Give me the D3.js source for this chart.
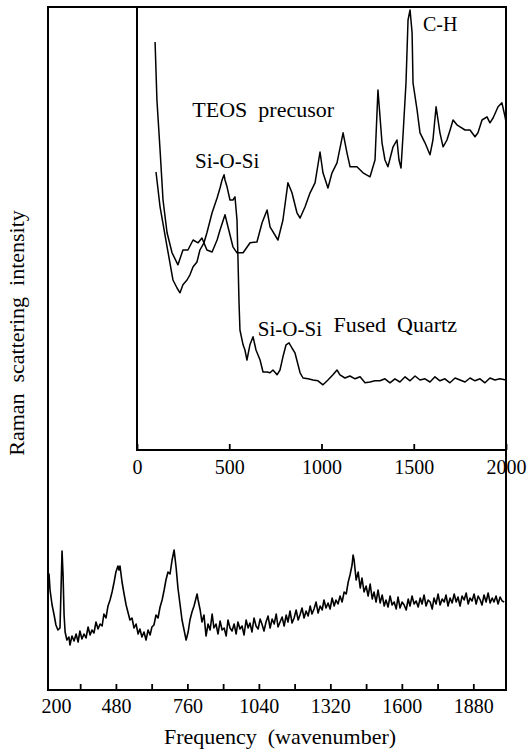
<!DOCTYPE html>
<html><head><meta charset="utf-8">
<script src="https://cdn.jsdelivr.net/npm/d3@7"></script>
<style>body{margin:0;background:#fff}svg{display:block}
svg text{font-family:"Liberation Serif","Times New Roman",serif;fill:#000}</style>
</head><body>
<svg id="c" width="529" height="756"></svg>
<script>
// ---------- data ----------
// Outer (main) spectrum: [wavenumber, intensity (a.u.)]
const surfaceSpectrum = [
[214,55],[218,58],[222,50],[230,42.5],[238,37.5],[245,32.5],[253,30],[261,31],[265,50],[269,69.5],[273,57.5],[277,37.5],[281,29],
[288,25],[296,26.5],[300,22.5],[308,27],[316,24.5],[324,28],[332,24],[339,29.5],[347,25.5],[355,28],[363,26],[371,31.5],[379,27.5],
[386,30],[394,28.5],[402,34],[410,30.5],[418,33],[426,32],[433,38],[441,36],[449,42],[457,45],[465,49],[473,54],[480,59],[488,62],
[492,60],[496,62],[504,54],[512,48],[520,42.5],[527,39],[535,35],[543,36],[551,31],[559,33],[567,28],[574,30.5],[582,26.5],[590,29],
[598,25],[606,30],[614,27.5],[621,31.5],[629,32.5],[637,37.5],[645,36],[653,41.5],[661,45],[669,50],[676,55],[684,59],[692,58],
[700,65],[708,70],[716,61],[723,51],[731,43],[739,35],[747,30],[755,25],[763,29],[770,35],[778,39],[786,42],[794,46],[798,48],[802,45],
[810,40],[817,34],[825,37.5],[833,27],[841,33],[849,30],[857,38],[864,31],[872,33],[880,28],[888,34.5],[896,30],[904,31],[912,27],
[919,35],[927,31],[935,29.5],[943,33],[951,28],[958,34],[966,30.5],[974,32],[982,27.5],[990,35],[998,31],[1005,33.5],[1013,29],
[1021,36],[1029,32],[1037,30.5],[1045,35.5],[1052,33],[1060,29.5],[1068,34],[1076,37],[1084,31],[1092,35.5],[1100,33],[1108,38],
[1115,31.5],[1123,34],[1131,36.5],[1139,32],[1147,37.5],[1154,34],[1162,39.5],[1170,33.5],[1178,36],[1186,40],[1194,35],
[1201,37.5],[1209,41],[1217,36],[1225,39.5],[1233,37],[1241,42],[1248,38],[1256,40.5],[1264,44],[1272,38.5],[1280,42],
[1288,40],[1295,45],[1303,41],[1311,43.5],[1319,40.5],[1327,46],[1335,42],[1342,45],[1350,43],[1358,47],[1366,44],[1374,49],
[1382,48],[1390,54],[1397,57.5],[1405,62.5],[1409,67.5],[1413,65],[1421,55],[1429,59],[1437,51],[1444,56],[1452,49],[1460,52],
[1468,47],[1476,53],[1484,45.5],[1491,49],[1499,44],[1507,50],[1515,43.5],[1523,47.5],[1531,42],[1538,45],[1546,41.5],[1554,47],
[1562,42.5],[1570,44],[1578,40.5],[1585,46.5],[1593,41],[1601,44],[1609,42.5],[1617,40],[1625,45.5],[1632,42],[1640,47],[1648,43],
[1656,44.5],[1664,41.5],[1672,46],[1679,43],[1687,47.5],[1695,42],[1703,45],[1711,44],[1719,40.5],[1726,46],[1734,43],[1742,48],
[1750,42.5],[1758,45.5],[1766,44],[1773,47.5],[1781,42],[1789,46],[1797,43.5],[1805,48],[1813,44],[1820,46.5],[1828,42],[1836,47],
[1844,45],[1852,48.5],[1860,43],[1867,46],[1875,44.5],[1883,48],[1891,43],[1899,47],[1907,45],[1914,42.5],[1922,47.5],[1930,44],
[1938,48.5],[1946,43.5],[1954,46],[1961,44],[1969,47],[1977,43],[1985,46.5],[1993,44.5],[2001,44]
];
// Inset: TEOS precursor film
const teosSpectrum = [
[98,102],[108,87.5],[125,75],[141,62.5],[163,54.3],[190,49.3],[222,46.3],[249,50],[276,50],[304,52.5],[331,51.8],[352,53],[379,50],
[407,49.5],[434,52.5],[450,55],[477,58.8],[493,55.8],[520,50.8],[542,49.3],[575,49.3],[613,51.8],[650,52],[678,56.8],[705,60],
[721,55.8],[764,52.5],[791,57.5],[818,66.8],[840,64.3],[867,59.3],[884,58],[911,60.8],[938,64.3],[965,66.8],[992,74.5],[1008,69.3],
[1035,65.5],[1057,69.3],[1084,71.8],[1117,79.3],[1138,74.3],[1155,70.8],[1192,70.8],[1225,69.3],[1263,68.3],[1290,72.5],[1306,90],
[1328,76.8],[1344,72.5],[1360,70.8],[1388,75.8],[1409,77.5],[1420,72.5],[1431,70.5],[1442,78.8],[1458,91.8],[1469,107.5],[1480,110],
[1491,104.3],[1496,91.8],[1518,85],[1534,79.3],[1561,76.8],[1588,73.8],[1604,77.5],[1621,85.8],[1642,79.3],[1659,75.8],[1680,77.5],
[1697,80],[1713,82.5],[1734,81.3],[1751,80.8],[1778,80],[1805,80],[1832,78.3],[1848,79.3],[1870,82.5],[1897,83.3],[1913,81.8],
[1930,83],[1957,85.8],[1978,86.8],[1995,83.3],[2000,82]
];
// Inset: fused quartz
const quartzSpectrum = [
[103,69.5],[125,60.8],[163,50.8],[195,42.5],[217,40.5],[233,39.3],[249,41.3],[271,42.5],[287,43.8],[304,45.8],[325,47],[341,50],
[363,51.8],[379,54.3],[407,59.3],[434,63],[450,65.5],[461,67.5],[472,68.8],[477,67.5],[488,65.8],[504,62.5],[520,62.5],[531,63.3],
[542,57.5],[547,48.3],[553,36.8],[558,30],[575,26.3],[585,25],[596,22.5],[612,26.3],[629,28.3],[645,25],[667,22.5],[683,19.5],
[705,19.5],[721,19.3],[737,20],[759,18.8],[775,20],[791,23.3],[808,26.3],[824,26.8],[840,25.5],[856,24.3],[884,19.3],[900,18],
[927,17.8],[954,17.5],[981,17.3],[1008,16.3],[1035,17.5],[1062,18.8],[1084,20],[1100,18.8],[1127,18],[1154,18.5],[1182,17.8],
[1209,18.3],[1236,16.8],[1263,17],[1290,17.3],[1317,17.3],[1344,17.8],[1371,16.8],[1398,17.8],[1425,17],[1453,18.3],[1480,17.3],
[1507,18.5],[1534,17.5],[1561,17.8],[1588,17],[1615,18.3],[1642,17.3],[1669,17.8],[1696,16.8],[1724,18],[1751,17.5],[1778,17],
[1805,18],[1832,17.3],[1859,17.8],[1886,16.8],[1913,18],[1940,17.5],[1967,17.8],[2000,17.5]
];
const outerTickMarks = [340,480,620,760,900,1040,1180,1320,1460,1600,1740,1880];
const outerTickLabels = [200,480,760,1040,1320,1600,1880];
const insetTickLabels = [0,500,1000,1500,2000];
const xTitle = "Frequency\u00a0\u00a0(wavenumber)";
const yTitle = "Raman\u00a0\u00a0scattering\u00a0\u00a0intensity";

// ---------- drawing ----------
const svg = d3.select("#c");
svg.append("rect").attr("width",529).attr("height",756).attr("fill","#fff");

// outer panel
const outer = {left:48, right:506, top:7, bottom:690};
const xo = d3.scaleLinear().domain([214,2008]).range([outer.left, outer.right]);
const yo = d3.scaleLinear().domain([0,100]).range([outer.bottom, 490]);

// inset panel
const inset = {left:137, right:506, top:7, bottom:450};
const xi = d3.scaleLinear().domain([0,2000]).range([inset.left, inset.right]);
const yi = d3.scaleLinear().domain([0,110]).range([inset.bottom, 10]);

// outer spectrum
const lineO = d3.line().x(d=>xo(d[0])).y(d=>yo(d[1]));
svg.append("path").datum(surfaceSpectrum).attr("d",lineO)
  .attr("fill","none").attr("stroke","#000").attr("stroke-width",1.6).attr("stroke-linejoin","round");

// inset spectra
const lineI = d3.line().x(d=>xi(d[0])).y(d=>yi(d[1]));
[teosSpectrum, quartzSpectrum].forEach(s=>{
  svg.append("path").datum(s).attr("d",lineI)
    .attr("fill","none").attr("stroke","#000").attr("stroke-width",1.5).attr("stroke-linejoin","round");
});

// frames
svg.append("rect").attr("x",outer.left).attr("y",outer.top)
  .attr("width",outer.right-outer.left).attr("height",outer.bottom-outer.top)
  .attr("fill","none").attr("stroke","#000").attr("stroke-width",2);
svg.append("rect").attr("x",inset.left).attr("y",inset.top)
  .attr("width",inset.right-inset.left).attr("height",inset.bottom-inset.top)
  .attr("fill","none").attr("stroke","#000").attr("stroke-width",2);

// outer axis
const labelSet = new Set(outerTickLabels);
const outerTicks = Array.from(new Set([...outerTickLabels, ...outerTickMarks])).sort((a,b)=>a-b);
const gxo = svg.append("g").attr("transform",`translate(0,${outer.bottom})`)
  .call(d3.axisBottom(xo).tickValues(outerTicks).tickSize(-6).tickPadding(9)
        .tickFormat(v=> labelSet.has(v) ? String(v) : ""));
gxo.attr("font-family",null);
gxo.select(".domain").remove();
gxo.selectAll(".tick line").attr("stroke","#000").attr("stroke-width",1.8)
  .filter(d=> xo(d) < outer.left).remove();
gxo.selectAll(".tick text").attr("font-size",20)
  .filter(d=> xo(d) < outer.left+10).attr("x", d=> outer.left + 8 - xo(d));

// inset axis
const gxi = svg.append("g").attr("transform",`translate(0,${inset.bottom})`)
  .call(d3.axisBottom(xi).tickValues(insetTickLabels).tickSize(-6).tickPadding(10).tickFormat(d3.format("d")));
gxi.attr("font-family",null);
gxi.select(".domain").remove();
gxi.selectAll(".tick line").attr("stroke","#000").attr("stroke-width",1.8);
gxi.selectAll(".tick text").attr("font-size",20);

// titles
svg.append("text").attr("x",280).attr("y",744).attr("text-anchor","middle")
  .attr("font-size",22).text(xTitle);
svg.append("text").attr("transform","translate(24,333) rotate(-90)").attr("text-anchor","middle")
  .attr("font-size",22).text(yTitle);

// annotations
const notes = [
  {t:"C-H", x:xi(1550), y:31, s:20},
  {t:"TEOS\u00a0\u00a0precusor", x:xi(300), y:117, s:22},
  {t:"Si-O-Si", x:xi(315), y:168, s:21},
  {t:"Si-O-Si", x:xi(655), y:336, s:21},
  {t:"Fused\u00a0\u00a0Quartz", x:xi(1065), y:332, s:22}
];
notes.forEach(n=>{
  svg.append("text").attr("x",n.x).attr("y",n.y).attr("font-size",n.s).text(n.t);
});
</script>
</body></html>
